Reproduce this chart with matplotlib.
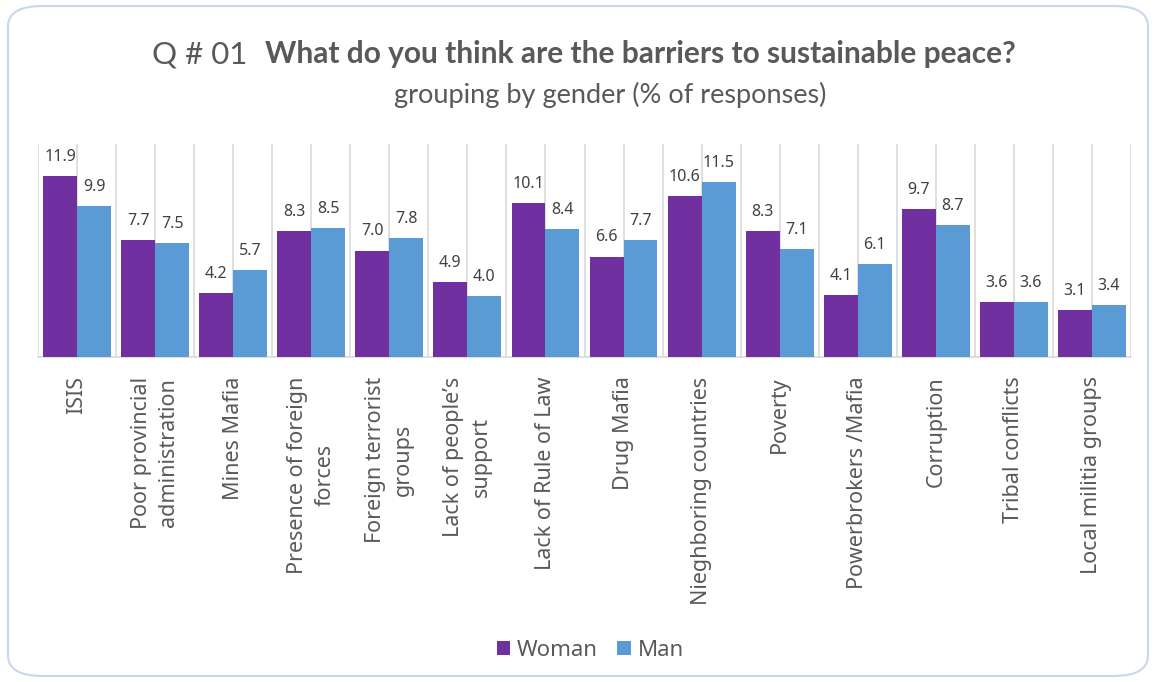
import matplotlib.pyplot as plt
import numpy as np
from matplotlib.patches import FancyBboxPatch

categories = ['ISIS', 'Poor provincial\nadministration', 'Mines Mafia',
              'Presence of foreign\nforces', 'Foreign terrorist\ngroups',
              'Lack of people\u2019s\nsupport', 'Lack of Rule of Law', 'Drug Mafia',
              'Nieghboring countries', 'Poverty', 'Powerbrokers /Mafia',
              'Corruption', 'Tribal conflicts', 'Local militia groups']
woman = [11.9, 7.7, 4.2, 8.3, 7.0, 4.9, 10.1, 6.6, 10.6, 8.3, 4.1, 9.7, 3.6, 3.1]
man = [9.9, 7.5, 5.7, 8.5, 7.8, 4.0, 8.4, 7.7, 11.5, 7.1, 6.1, 8.7, 3.6, 3.4]

purple = '#7030A0'
blue = '#5B9BD5'
txt = '#595959'
plt.rcParams['font.family'] = ['Noto Sans', 'DejaVu Sans']

fig = plt.figure(figsize=(11.54, 6.82), dpi=100)
# rounded chart frame
frame = FancyBboxPatch((8 / 1154, 6 / 682), 1140 / 1154, 670 / 682,
                       boxstyle='round,pad=0,rounding_size=0.03',
                       transform=fig.transFigure, facecolor='none',
                       edgecolor='#C9D6EE', linewidth=1.5, zorder=0)
fig.patches.append(frame)

ax = fig.add_axes([38 / 1154, 1 - 357 / 682, (1131 - 38) / 1154, (357 - 144) / 682])
ax.patch.set_alpha(0)
x = np.arange(len(categories))
w = 0.435
b1 = ax.bar(x - w / 2, woman, w, color=purple, label='Woman', zorder=3)
b2 = ax.bar(x + w / 2, man, w, color=blue, label='Man', zorder=3)

for bars, vals in [(b1, woman), (b2, man)]:
    for r, v in zip(bars, vals):
        ax.annotate(f'{v:.1f}', (r.get_x() + r.get_width() / 2, v),
                    xytext=(0, 8), textcoords='offset points',
                    ha='center', va='bottom', fontsize=11.5, color='#404040')

ax.set_xlim(-0.5, len(categories) - 0.5)
ax.set_ylim(0, 14)
ax.set_yticks([])
ax.set_xticks(x)
ax.set_xticklabels(categories, rotation=90, fontsize=15.5, color='#595959',
                   va='top', ha='center', linespacing=1.4)
ax.tick_params(axis='x', length=0, pad=14)
# vertical gridlines at half-category steps
for g in np.arange(-0.5, len(categories), 0.5):
    ax.axvline(g, color='#D9D9D9', lw=1.2, zorder=1)
for s in ['top', 'right', 'left']:
    ax.spines[s].set_visible(False)
ax.spines['bottom'].set_color('#D9D9D9')
ax.spines['bottom'].set_linewidth(1.2)

fig.text(247 / 1154, 1 - 63 / 682, 'Q # 01', ha='right', va='baseline',
         fontsize=22.5, color=txt, family=['Lato', 'DejaVu Sans'])
fig.text(265 / 1154, 1 - 63 / 682, 'What do you think are the barriers to sustainable peace?',
         ha='left', va='baseline', fontsize=21.5, fontweight='bold', color=txt,
         family=['Lato', 'DejaVu Sans'])
fig.text(610 / 1154, 1 - 103 / 682, 'grouping by gender (% of responses)',
         ha='center', va='baseline', fontsize=19.5, color=txt,
         family=['Lato', 'DejaVu Sans'])

fig.legend(handles=[b1, b2], labels=['Woman', 'Man'], loc='center',
           bbox_to_anchor=(590 / 1154, 1 - 650 / 682), ncol=2, frameon=False,
           fontsize=16, handlelength=0.6, handleheight=0.6, handletextpad=0.3,
           columnspacing=0.9, labelcolor=txt)

fig.savefig('out.png', dpi=100)
